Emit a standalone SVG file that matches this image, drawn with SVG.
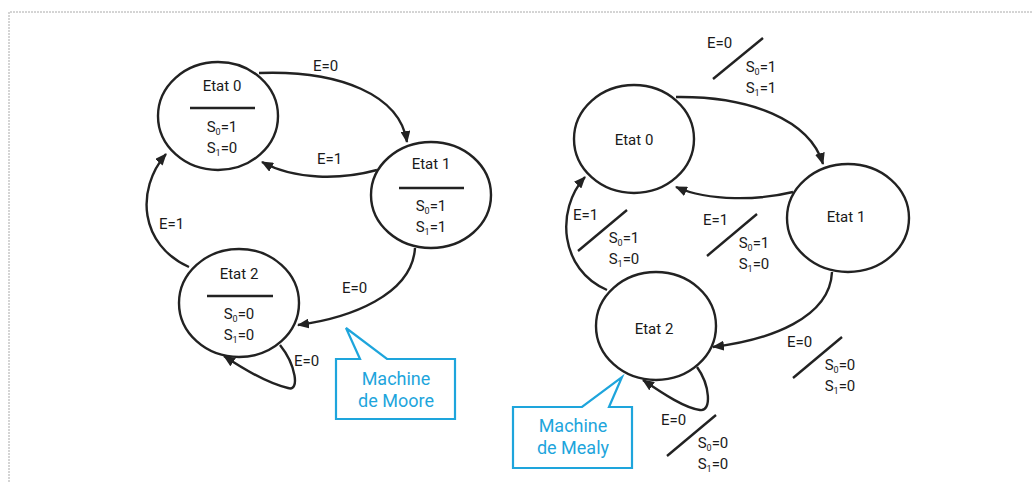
<svg xmlns="http://www.w3.org/2000/svg" width="1032" height="482" viewBox="0 0 1032 482">
<defs>
<marker id="ah" viewBox="0 0 12 10" refX="11" refY="5" markerWidth="12" markerHeight="10" markerUnits="userSpaceOnUse" orient="auto">
<path d="M0,0 L12,5 L0,10 Z" fill="#222"/>
</marker>
<style>
.st{fill:#fff;stroke:#222;stroke-width:2.4}
.sep{stroke:#222;stroke-width:2.4}
.t{font-family:Roboto,"DejaVu Sans",sans-serif;font-size:15px;fill:#1a1a1a;text-anchor:middle}
.lb{font-family:Roboto,"DejaVu Sans",sans-serif;font-size:15px;fill:#1a1a1a}
.sub{font-size:9px}
.cn{fill:none;stroke:#222;stroke-width:2.4;marker-end:url(#ah)}
.sl{stroke:#222;stroke-width:2.4}
.co{fill:#fff;stroke:#1ea5dc;stroke-width:2.2}
.ct{font-family:Roboto,"DejaVu Sans",sans-serif;font-size:18px;fill:#1ea5dc;text-anchor:middle}
.fr{fill:none;stroke:#aaa;stroke-width:1;stroke-dasharray:2 1}
</style>
</defs>
<path class="fr" d="M9,482 L9,12 L1032,12"/>

<g id="connectors">
<path class="cn" d="M259,73 C340,70 400,95 407,142"/>
<path class="cn" d="M377,170 C340,180 295,180 262,162"/>
<path class="cn" d="M415,248 C412,295 350,318 298,325"/>
<path class="cn" d="M189,267 C140,245 135,190 166,154"/>
<path class="cn" d="M280,345 C296,365 300,392 288,388 C270,384 245,370 224,356"/>
<text class="lb" x="313" y="71">E=0</text>
<text class="lb" x="317" y="164">E=1</text>
<text class="lb" x="342" y="293">E=0</text>
<text class="lb" x="159" y="229">E=1</text>
<text class="lb" x="294" y="366">E=0</text>

<path class="cn" d="M676,97 C750,96 810,120 823,164"/>
<path class="cn" d="M793,192 C760,200 710,202 676,187"/>
<path class="cn" d="M832,272 C830,318 770,340 713,347"/>
<path class="cn" d="M607,290 C560,270 555,210 585,177"/>
<path class="cn" d="M697,367 C710,385 712,412 700,410 C685,408 665,395 643,380"/>

<text class="lb" x="707" y="48">E=0</text>
<line class="sl" x1="713" y1="79" x2="763" y2="38"/>
<text class="t" x="761" y="72">S<tspan class="sub" dy="3">0</tspan><tspan dy="-3">=1</tspan></text>
<text class="t" x="761" y="93">S<tspan class="sub" dy="3">1</tspan><tspan dy="-3">=1</tspan></text>

<text class="lb" x="703" y="225">E=1</text>
<line class="sl" x1="707" y1="256" x2="757" y2="214"/>
<text class="t" x="754" y="248">S<tspan class="sub" dy="3">0</tspan><tspan dy="-3">=1</tspan></text>
<text class="t" x="754" y="269">S<tspan class="sub" dy="3">1</tspan><tspan dy="-3">=0</tspan></text>

<text class="lb" x="787" y="347">E=0</text>
<line class="sl" x1="793" y1="378" x2="842" y2="337"/>
<text class="t" x="840" y="370">S<tspan class="sub" dy="3">0</tspan><tspan dy="-3">=0</tspan></text>
<text class="t" x="840" y="391">S<tspan class="sub" dy="3">1</tspan><tspan dy="-3">=0</tspan></text>

<text class="lb" x="573" y="220">E=1</text>
<line class="sl" x1="578" y1="251" x2="627" y2="210"/>
<text class="t" x="624" y="243">S<tspan class="sub" dy="3">0</tspan><tspan dy="-3">=1</tspan></text>
<text class="t" x="624" y="264">S<tspan class="sub" dy="3">1</tspan><tspan dy="-3">=0</tspan></text>

<text class="lb" x="661" y="425">E=0</text>
<line class="sl" x1="667" y1="456" x2="716" y2="415"/>
<text class="t" x="713" y="448">S<tspan class="sub" dy="3">0</tspan><tspan dy="-3">=0</tspan></text>
<text class="t" x="713" y="469">S<tspan class="sub" dy="3">1</tspan><tspan dy="-3">=0</tspan></text>
</g>

<g id="moore-etat0">
<ellipse class="st" cx="218" cy="116" rx="60" ry="54"/>
<text class="t" x="222" y="91">Etat 0</text>
<line class="sep" x1="190" y1="108" x2="255" y2="108"/>
<text class="t" x="222" y="132">S<tspan class="sub" dy="3">0</tspan><tspan dy="-3">=1</tspan></text>
<text class="t" x="222" y="153">S<tspan class="sub" dy="3">1</tspan><tspan dy="-3">=0</tspan></text>
</g>
<g id="moore-etat1">
<ellipse class="st" cx="431" cy="195" rx="60" ry="53"/>
<text class="t" x="431" y="169">Etat 1</text>
<line class="sep" x1="399" y1="188" x2="464" y2="188"/>
<text class="t" x="431" y="211">S<tspan class="sub" dy="3">0</tspan><tspan dy="-3">=1</tspan></text>
<text class="t" x="431" y="232">S<tspan class="sub" dy="3">1</tspan><tspan dy="-3">=1</tspan></text>
</g>
<g id="moore-etat2">
<ellipse class="st" cx="239" cy="303" rx="60" ry="54"/>
<text class="t" x="239" y="279">Etat 2</text>
<line class="sep" x1="207" y1="296" x2="273" y2="296"/>
<text class="t" x="239" y="319">S<tspan class="sub" dy="3">0</tspan><tspan dy="-3">=0</tspan></text>
<text class="t" x="239" y="340">S<tspan class="sub" dy="3">1</tspan><tspan dy="-3">=0</tspan></text>
</g>
<g id="callout-moore">
<path class="co" d="M336,359 L360,359 L346,328 L387,359 L455,359 L455,419 L336,419 Z"/>
<text class="ct" x="396" y="385">Machine</text>
<text class="ct" x="396" y="407">de Moore</text>
</g>

<g id="mealy-etat0">
<ellipse class="st" cx="634" cy="139" rx="60" ry="54"/>
<text class="t" x="634" y="145">Etat 0</text>
</g>
<g id="mealy-etat1">
<ellipse class="st" cx="848" cy="218" rx="61" ry="54"/>
<text class="t" x="846" y="222">Etat 1</text>
</g>
<g id="mealy-etat2">
<ellipse class="st" cx="656" cy="326" rx="60" ry="54"/>
<text class="t" x="654" y="334">Etat 2</text>
</g>
<g id="callout-mealy">
<path class="co" d="M513,407 L582,407 L622,377 L609,407 L632,407 L632,468 L513,468 Z"/>
<text class="ct" x="573" y="432">Machine</text>
<text class="ct" x="573" y="454">de Mealy</text>
</g>
</svg>
